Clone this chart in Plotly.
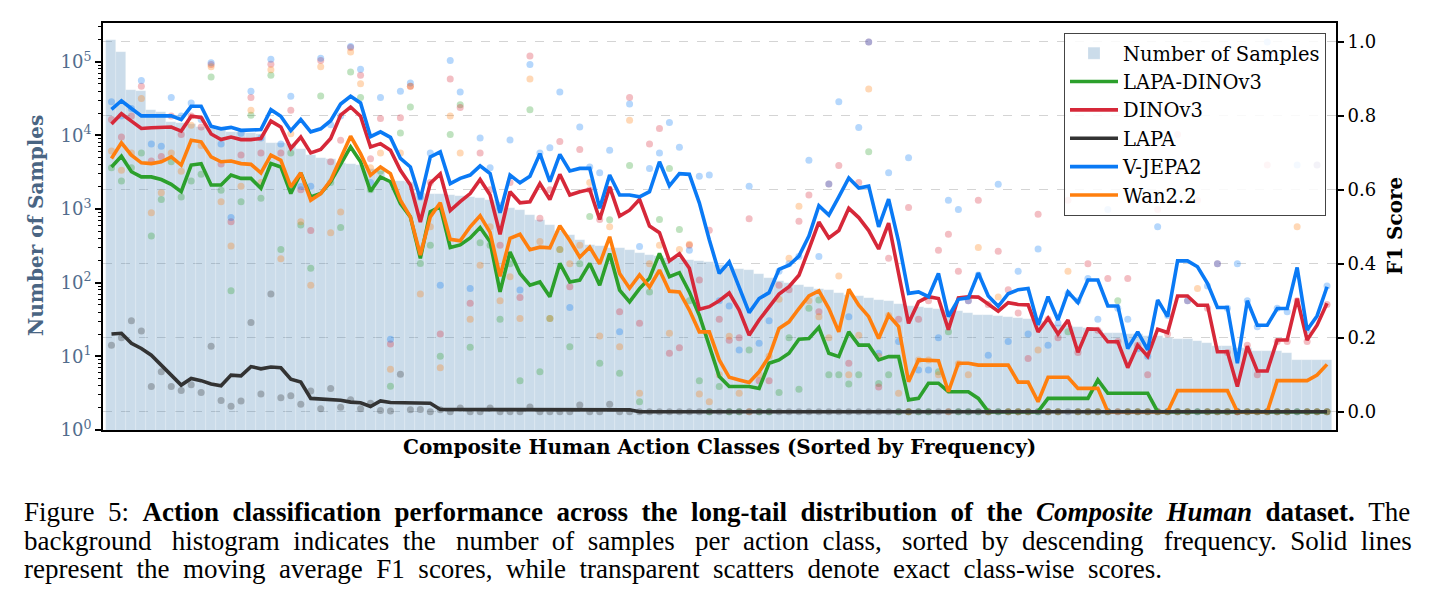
import plotly.graph_objects as go

# ---------------- data ----------------
classes = list(range(123))

num_samples = [
    200000, 135000, 42000, 40000, 22000, 21000, 15000, 14800, 14500, 12900,
    12600, 12300, 11200, 11000, 10700, 10500, 7900, 7800, 7600, 6600,
    5500, 4900, 4800, 4200, 4100, 4000, 3550, 3300, 2450, 2400,
    2350, 1650, 1620, 1600, 1550, 1520, 1480, 1400, 1320, 1260,
    1050, 980, 830, 710, 600, 510, 450, 380, 330, 320,
    300, 295, 275, 257, 240, 234, 219, 214, 204, 195,
    190, 174, 166, 155, 148, 132, 117, 107, 100, 93,
    87, 83, 79, 72, 69, 66, 63, 59, 56, 52,
    48, 47, 45, 44, 42, 41, 39, 37, 36, 35,
    34, 33, 32, 30, 28, 27, 26, 25, 24, 23,
    21, 21, 20, 20, 19, 19, 18, 17, 17, 16,
    15, 14, 14, 13, 13, 12, 12, 12, 11, 9,
    9, 9, 9,
]

# moving-average F1 curves
ma_vjepa2 = [
    0.818, 0.841, 0.820, 0.800, 0.800, 0.800, 0.800, 0.790, 0.826, 0.826,
    0.772, 0.765, 0.769, 0.761, 0.763, 0.763, 0.817, 0.799, 0.760, 0.790,
    0.757, 0.765, 0.787, 0.832, 0.853, 0.835, 0.744, 0.757, 0.742, 0.685,
    0.662, 0.575, 0.689, 0.703, 0.617, 0.631, 0.640, 0.665, 0.644, 0.538,
    0.640, 0.619, 0.637, 0.698, 0.622, 0.696, 0.651, 0.658, 0.658, 0.550,
    0.640, 0.586, 0.586, 0.581, 0.595, 0.676, 0.611, 0.644, 0.642, 0.565,
    0.465, 0.374, 0.405, 0.338, 0.268, 0.306, 0.322, 0.385, 0.396, 0.421,
    0.475, 0.557, 0.532, 0.581, 0.632, 0.605, 0.610, 0.500, 0.575, 0.460,
    0.320, 0.324, 0.311, 0.374, 0.257, 0.304, 0.308, 0.375, 0.313, 0.285,
    0.319, 0.330, 0.333, 0.235, 0.311, 0.248, 0.324, 0.295, 0.356, 0.356,
    0.286, 0.286, 0.171, 0.216, 0.167, 0.302, 0.257, 0.408, 0.408, 0.392,
    0.347, 0.282, 0.282, 0.131, 0.300, 0.234, 0.234, 0.279, 0.279, 0.390,
    0.221, 0.259, 0.338,
]
ma_dinov3 = [
    0.778, 0.806, 0.786, 0.766, 0.768, 0.770, 0.770, 0.759, 0.799, 0.796,
    0.751, 0.736, 0.743, 0.736, 0.736, 0.739, 0.786, 0.770, 0.712, 0.743,
    0.700, 0.709, 0.739, 0.802, 0.824, 0.799, 0.716, 0.725, 0.707, 0.653,
    0.613, 0.513, 0.618, 0.643, 0.544, 0.568, 0.590, 0.628, 0.586, 0.480,
    0.595, 0.565, 0.568, 0.617, 0.574, 0.642, 0.586, 0.595, 0.601, 0.520,
    0.608, 0.529, 0.545, 0.574, 0.502, 0.484, 0.408, 0.427, 0.388, 0.277,
    0.284, 0.300, 0.321, 0.275, 0.207, 0.248, 0.284, 0.318, 0.338, 0.369,
    0.440, 0.513, 0.470, 0.490, 0.550, 0.525, 0.490, 0.440, 0.510, 0.370,
    0.239, 0.297, 0.311, 0.306, 0.222, 0.308, 0.311, 0.310, 0.290, 0.272,
    0.295, 0.290, 0.289, 0.216, 0.253, 0.210, 0.248, 0.161, 0.224, 0.223,
    0.189, 0.189, 0.119, 0.180, 0.150, 0.223, 0.214, 0.313, 0.313, 0.288,
    0.288, 0.162, 0.162, 0.068, 0.177, 0.110, 0.110, 0.194, 0.194, 0.306,
    0.194, 0.234, 0.293,
]
ma_wan22 = [
    0.685, 0.727, 0.694, 0.673, 0.671, 0.676, 0.689, 0.667, 0.734, 0.730,
    0.689, 0.676, 0.678, 0.671, 0.669, 0.646, 0.694, 0.680, 0.608, 0.646,
    0.572, 0.590, 0.626, 0.685, 0.745, 0.698, 0.640, 0.662, 0.644, 0.572,
    0.527, 0.424, 0.527, 0.565, 0.466, 0.462, 0.500, 0.530, 0.485, 0.366,
    0.469, 0.480, 0.438, 0.445, 0.443, 0.503, 0.463, 0.418, 0.445, 0.400,
    0.473, 0.374, 0.334, 0.370, 0.337, 0.383, 0.326, 0.324, 0.275, 0.216,
    0.216, 0.140, 0.093, 0.086, 0.079, 0.108, 0.149, 0.225, 0.243, 0.279,
    0.313, 0.327, 0.279, 0.216, 0.331, 0.288, 0.257, 0.198, 0.261, 0.230,
    0.081, 0.140, 0.140, 0.138, 0.054, 0.131, 0.131, 0.126, 0.126, 0.126,
    0.126, 0.080, 0.080, 0.027, 0.093, 0.093, 0.093, 0.063, 0.063, 0.063,
    0.0, 0.0, 0.0, 0.0, 0.0, 0.0, 0.0, 0.057, 0.057, 0.057,
    0.057, 0.057, 0.057, 0.0, 0.0, 0.0, 0.0, 0.084, 0.084, 0.084,
    0.084, 0.099, 0.128,
]
ma_lapa_dinov3 = [
    0.662, 0.691, 0.649, 0.635, 0.635, 0.628, 0.615, 0.595, 0.667, 0.671,
    0.613, 0.613, 0.640, 0.631, 0.631, 0.604, 0.671, 0.662, 0.590, 0.646,
    0.581, 0.590, 0.622, 0.671, 0.716, 0.676, 0.596, 0.635, 0.622, 0.563,
    0.527, 0.415, 0.541, 0.554, 0.444, 0.451, 0.470, 0.498, 0.460, 0.324,
    0.432, 0.374, 0.342, 0.351, 0.311, 0.401, 0.351, 0.356, 0.401, 0.342,
    0.428, 0.329, 0.297, 0.333, 0.361, 0.428, 0.365, 0.376, 0.324, 0.261,
    0.176, 0.095, 0.068, 0.068, 0.068, 0.063, 0.131, 0.140, 0.158, 0.196,
    0.198, 0.228, 0.158, 0.149, 0.216, 0.180, 0.180, 0.140, 0.149, 0.149,
    0.032, 0.036, 0.077, 0.077, 0.054, 0.054, 0.054, 0.036, 0.0, 0.0,
    0.0, 0.0, 0.0, 0.0, 0.036, 0.036, 0.036, 0.036, 0.036, 0.086,
    0.050, 0.050, 0.050, 0.050, 0.050, 0.0, 0.0, 0.0, 0.0, 0.0,
    0.0, 0.0, 0.0, 0.0, 0.0, 0.0, 0.0, 0.0, 0.0, 0.0,
    0.0, 0.0, 0.0,
]
ma_lapa = [
    0.210, 0.212, 0.185, 0.171, 0.153, 0.126, 0.099, 0.072, 0.090, 0.084,
    0.075, 0.070, 0.099, 0.097, 0.122, 0.116, 0.121, 0.119, 0.088, 0.080,
    0.036, 0.034, 0.032, 0.031, 0.026, 0.024, 0.014, 0.029, 0.025, 0.024,
    0.023, 0.023, 0.023, 0.006, 0.006, 0.005, 0.005, 0.005, 0.005, 0.005,
    0.005, 0.005, 0.005, 0.005, 0.005, 0.005, 0.005, 0.005, 0.005, 0.005,
    0.005, 0.005, 0.005, 0.0, 0.0, 0.0, 0.0, 0.0, 0.0, 0.0,
    0.0, 0.0, 0.0, 0.0, 0.0, 0.0, 0.0, 0.0, 0.0, 0.0,
    0.0, 0.0, 0.0, 0.0, 0.0, 0.0, 0.0, 0.0, 0.0, 0.0,
    0.0, 0.0, 0.0, 0.0, 0.0, 0.0, 0.0, 0.0, 0.0, 0.0,
    0.0, 0.0, 0.0, 0.0, 0.0, 0.0, 0.0, 0.0, 0.0, 0.0,
    0.0, 0.0, 0.0, 0.0, 0.0, 0.0, 0.0, 0.0, 0.0, 0.0,
    0.0, 0.0, 0.0, 0.0, 0.0, 0.0, 0.0, 0.0, 0.0, 0.0,
    0.0, 0.0, 0.0,
]

# exact class-wise F1 scores
f1_vjepa2 = [
    0.838, 0.80, 0.82, 0.896, 0.724, 0.718, 0.850, 0.80, 0.835, 0.79,
    0.944, 0.724, 0.525, 0.753, 0.867, 0.74, 0.953, 0.724, 0.853, 0.609,
    0.61, 0.956, 0.776, 0.80, 0.988, 0.926, 0.62, 0.850, 0.196, 0.867,
    0.889, 0.58, 0.70, 0.342, 0.95, 0.865, 0.333, 0.74, 0.66, 0.55,
    0.735, 0.329, 0.939, 0.70, 0.714, 0.865, 0.282, 0.77, 0.662, 0.646,
    0.707, 0.216, 0.832, 0.447, 0.658, 0.70, 0.782, 0.715, 0.437, 0.637,
    0.64, 0.30, 0.286, 0.167, 0.61, 0.185, 0.246, 0.38, 0.40, 0.42,
    0.68, 0.42, 0.616, 0.838, 0.257, 0.769, 1.0, 0.158, 0.646, 0.19,
    0.687, 0.113, 0.113, 0.20, 0.572, 0.547, 0.30, 0.37, 0.153, 0.615,
    0.19, 0.38, 0.21, 0.44, 0.18, 0.24, 0.32, 0.30, 0.36, 0.25,
    0.547, 0.28, 0.25, 0.17, 0.15, 0.50, 0.26, 0.80, 0.30, 0.89,
    0.34, 0.40, 0.28, 0.40, 0.30, 0.23, 1.0, 0.28, 0.27, 0.667,
    0.22, 0.667, 0.34,
]
f1_dinov3 = [
    0.79, 0.743, 0.80, 0.880, 0.678, 0.69, 0.80, 0.75, 0.80, 0.77,
    0.939, 0.67, 0.514, 0.694, 0.85, 0.70, 0.94, 0.70, 0.815, 0.60,
    0.49, 0.95, 0.676, 0.734, 0.985, 0.91, 0.684, 0.793, 0.183, 0.795,
    0.88, 0.44, 0.62, 0.21, 0.90, 0.823, 0.293, 0.70, 0.60, 0.45,
    0.62, 0.309, 0.962, 0.523, 0.60, 0.731, 0.338, 0.709, 0.60, 0.52,
    0.60, 0.27, 0.85, 0.239, 0.724, 0.766, 0.158, 0.173, 0.45, 0.356,
    0.491, 0.25, 0.193, 0.20, 0.522, 0.084, 0.084, 0.342, 0.33, 0.515,
    0.586, 0.27, 0.616, 0.666, 0.131, 0.62, 1.0, 0.067, 0.415, 0.25,
    0.552, 0.25, 0.30, 0.437, 0.48, 0.38, 0.30, 0.572, 0.29, 0.434,
    0.33, 0.267, 0.144, 0.534, 0.25, 0.20, 0.572, 0.16, 0.40, 0.22,
    0.36, 0.19, 0.36, 0.18, 0.10, 0.547, 0.21, 0.75, 0.30, 0.572,
    0.28, 0.40, 0.16, 0.0, 0.18, 0.10, 0.667, 0.19, 0.19, 0.30,
    0.19, 0.667, 0.29,
]
f1_wan22 = [
    0.705, 0.653, 0.70, 0.847, 0.538, 0.592, 0.70, 0.65, 0.775, 0.72,
    0.933, 0.568, 0.448, 0.61, 0.815, 0.62, 0.925, 0.414, 0.752, 0.514,
    0.342, 0.933, 0.484, 0.54, 0.973, 0.887, 0.66, 0.70, 0.115, 0.70,
    0.88, 0.318, 0.50, 0.119, 0.80, 0.70, 0.25, 0.396, 0.50, 0.30,
    0.365, 0.252, 0.90, 0.46, 0.252, 0.439, 0.40, 0.45, 0.62, 0.205,
    0.50, 0.176, 0.788, 0.05, 0.40, 0.45, 0.212, 0.439, 0.453, 0.048,
    0.027, 0.10, 0.204, 0.05, 0.0, 0.10, 0.15, 0.304, 0.415, 0.556,
    0.30, 0.257, 0.20, 0.367, 0.10, 0.207, 0.873, 0.15, 0.26, 0.05,
    0.0, 0.14, 0.14, 0.10, 0.0, 0.13, 0.10, 0.444, 0.0, 0.31,
    0.0, 0.0, 0.0, 0.167, 0.0, 0.0, 0.38, 0.0, 0.0, 0.0,
    0.0, 0.0, 0.0, 0.0, 0.0, 0.0, 0.0, 0.0, 0.0, 0.333,
    0.0, 0.0, 0.0, 0.0, 0.0, 0.0, 0.0, 0.0, 0.0, 0.50,
    0.0, 0.0, 0.0,
]
f1_lapa_dinov3 = [
    0.66, 0.624, 0.66, 0.70, 0.475, 0.574, 0.676, 0.581, 0.624, 0.642,
    0.905, 0.599, 0.327, 0.568, 0.802, 0.577, 0.910, 0.439, 0.70, 0.505,
    0.388, 0.854, 0.62, 0.498, 0.919, 0.85, 0.60, 0.65, 0.069, 0.754,
    0.824, 0.401, 0.45, 0.150, 0.75, 0.83, 0.174, 0.457, 0.45, 0.25,
    0.40, 0.084, 0.817, 0.108, 0.252, 0.439, 0.176, 0.40, 0.528, 0.131,
    0.519, 0.104, 0.666, 0.027, 0.324, 0.52, 0.658, 0.493, 0.30, 0.084,
    0.0, 0.068, 0.0, 0.0, 0.167, 0.0, 0.0, 0.052, 0.20, 0.061,
    0.28, 0.302, 0.10, 0.10, 0.075, 0.10, 0.703, 0.076, 0.10, 0.0,
    0.0, 0.0, 0.0, 0.108, 0.216, 0.0, 0.0, 0.0, 0.0, 0.0,
    0.0, 0.0, 0.0, 0.0, 0.0, 0.0, 0.216, 0.0, 0.0, 0.0,
    0.0, 0.30, 0.0, 0.0, 0.0, 0.0, 0.0, 0.0, 0.0, 0.0,
    0.0, 0.0, 0.0, 0.0, 0.0, 0.0, 0.0, 0.0, 0.0, 0.0,
    0.0, 0.0, 0.0,
]
f1_lapa = [
    0.180, 0.20, 0.246, 0.218, 0.068, 0.108, 0.068, 0.057, 0.073, 0.052,
    0.177, 0.03, 0.015, 0.029, 0.241, 0.048, 0.318, 0.038, 0.043, 0.02,
    0.056, 0.008, 0.063, 0.012, 0.032, 0.008, 0.023, 0.003, 0.002, 0.101,
    0.005, 0.006, 0.0, 0.005, 0.0, 0.01, 0.0, 0.0, 0.01, 0.0,
    0.0, 0.0, 0.013, 0.0, 0.0, 0.0, 0.0, 0.018, 0.0, 0.0,
    0.02, 0.0, 0.0, 0.0, 0.0, 0.0, 0.0, 0.0, 0.0, 0.0,
    0.0, 0.0, 0.0, 0.0, 0.0, 0.0, 0.0, 0.0, 0.0, 0.0,
    0.0, 0.0, 0.0, 0.0, 0.0, 0.0, 0.0, 0.0, 0.0, 0.0,
    0.0, 0.0, 0.0, 0.0, 0.0, 0.0, 0.0, 0.0, 0.0, 0.0,
    0.0, 0.0, 0.0, 0.0, 0.0, 0.0, 0.0, 0.0, 0.0, 0.0,
    0.0, 0.0, 0.0, 0.0, 0.0, 0.0, 0.0, 0.0, 0.0, 0.0,
    0.0, 0.0, 0.0, 0.0, 0.0, 0.0, 0.0, 0.0, 0.0, 0.0,
    0.0, 0.0, 0.0,
]

left_tick_vals = [1, 10, 100, 1000, 10000, 100000]
left_tick_text = ["10<sup>0</sup>", "10<sup>1</sup>", "10<sup>2</sup>",
                  "10<sup>3</sup>", "10<sup>4</sup>", "10<sup>5</sup>"]
right_tick_vals = [0.0, 0.2, 0.4, 0.6, 0.8, 1.0]
right_tick_text = ["0.0", "0.2", "0.4", "0.6", "0.8", "1.0"]

models = [
    # name, ma, raw, color, legendrank
    ("LAPA-DINOv3", ma_lapa_dinov3, f1_lapa_dinov3, "#2ca02c", 2),
    ("DINOv3", ma_dinov3, f1_dinov3, "#d62839", 3),
    ("V-JEPA2", ma_vjepa2, f1_vjepa2, "#0a7af5", 5),
    ("Wan2.2", ma_wan22, f1_wan22, "#ff7f0e", 6),
    ("LAPA", ma_lapa, f1_lapa, "#333333", 4),
]

caption_words = [
    ["Figure", "5:", "<b>Action", "classification", "performance", "across",
     "the", "long-tail", "distribution", "of", "the", "<i>Composite",
     "Human</i>", "dataset.</b>", "The"],
    ["background", "histogram", "indicates", "the", "number", "of", "samples",
     "per", "action", "class,", "sorted", "by", "descending", "frequency.",
     "Solid", "lines"],
    ["represent", "the", "moving", "average", "F1", "scores,", "while",
     "transparent", "scatters", "denote", "exact", "class-wise", "scores."],
]

# ---------------- figure ----------------
W, H = 1435, 611
ML, MR, MT, MB = 103, 99, 23, 181
PW, PH = W - ML - MR, H - MT - MB


def px_x(px):
    return (px - ML) / PW


def px_y(py):
    return 1 - (py - MT) / PH


fig = go.Figure()

fig.add_trace(go.Bar(
    x=classes, y=num_samples, name="Number of Samples",
    marker=dict(color="rgba(70,130,180,0.28)",
                line=dict(color="rgba(255,255,255,0.35)", width=0.6)),
    yaxis="y", legendrank=1, hoverinfo="skip",
))

for name, ma, raw, color, rank in models:
    fig.add_trace(go.Scatter(
        x=classes, y=raw, mode="markers", yaxis="y2", showlegend=False,
        marker=dict(color=color, size=7, opacity=0.3, line=dict(width=0)),
        hoverinfo="skip",
    ))

for name, ma, raw, color, rank in models:
    fig.add_trace(go.Scatter(
        x=classes, y=ma, mode="lines", name=name, yaxis="y2",
        line=dict(color=color, width=3.6), legendrank=rank,
    ))

minor_vals = [m * 10 ** k for k in range(0, 6) for m in range(2, 10)]

slate = "#526d8d"

fig.update_layout(
    width=W, height=H,
    margin=dict(l=ML, r=MR, t=MT, b=MB, pad=0),
    paper_bgcolor="white", plot_bgcolor="white",
    font=dict(family="DejaVu Serif", size=18, color="black"),
    bargap=0,
    xaxis=dict(range=[-0.85, 122.9], showticklabels=False, ticks="",
               showline=True, linewidth=2, linecolor="black", mirror=True,
               showgrid=False, zeroline=False),
    yaxis=dict(type="log", range=[0, 5.527],
               tickvals=left_tick_vals, ticktext=left_tick_text,
               tickfont=dict(family="DejaVu Serif", size=18, color=slate),
               ticks="outside", ticklen=6, tickwidth=1.5, tickcolor="black",
               minor=dict(tickvals=minor_vals, ticks="outside", ticklen=3,
                          tickwidth=1, tickcolor="black", showgrid=False),
               showline=True, linewidth=2, linecolor="black", mirror=True,
               showgrid=False, zeroline=False),
    yaxis2=dict(overlaying="y", side="right", range=[-0.0495, 1.0513],
                tickvals=right_tick_vals, ticktext=right_tick_text,
                tickfont=dict(family="DejaVu Serif", size=18, color="black"),
                ticks="outside", ticklen=6, tickwidth=1.5, tickcolor="black",
                showline=True, linewidth=2, linecolor="black",
                showgrid=True, gridcolor="#d4d4d4", griddash="dash",
                gridwidth=1, zeroline=False),
    legend=dict(x=px_x(1326), y=px_y(33), xanchor="right", yanchor="top",
                bgcolor="rgba(255,255,255,0.85)", bordercolor="#444444",
                borderwidth=1, itemwidth=48,
                font=dict(family="DejaVu Serif", size=19.5, color="black")),
    showlegend=True,
)

# caption lines (the original is justified: widen inter-word gaps with nbsp)
NB = "\u00a0"
gap_l1 = [" " + NB] * 14
gap_l2 = [" " + NB * (2 if k % 3 == 0 else 1) for k in range(15)]
gap_l3 = [" " + NB] * 12


def join_words(words, gaps):
    out = words[0]
    for w, g in zip(words[1:], gaps):
        out += g + w
    return out


cap_texts = [join_words(caption_words[0], gap_l1),
             join_words(caption_words[1], gap_l2),
             join_words(caption_words[2], gap_l3)]
cap_y = [512, 541, 569]

annotations = [
    dict(text="<b>Composite Human Action Classes (Sorted by Frequency)</b>",
         x=px_x(719), y=px_y(447), xanchor="center", yanchor="middle",
         font=dict(family="DejaVu Serif", size=20, color="black")),
    dict(text="<b>Number of Samples</b>", textangle=-90,
         x=px_x(36), y=px_y(226), xanchor="center", yanchor="middle",
         font=dict(family="DejaVu Serif", size=20, color="#4a6583")),
    dict(text="<b>F1 Score</b>", textangle=-90,
         x=px_x(1395), y=px_y(226), xanchor="center", yanchor="middle",
         font=dict(family="DejaVu Serif", size=20, color="black")),
]
for t, yy in zip(cap_texts, cap_y):
    annotations.append(dict(
        text=t, x=px_x(22), y=px_y(yy), xanchor="left", yanchor="middle",
        font=dict(family="Liberation Serif", size=27, color="black")))
for a in annotations:
    a.update(xref="paper", yref="paper", showarrow=False)
fig.update_layout(annotations=annotations)

fig.write_html("out.html")
